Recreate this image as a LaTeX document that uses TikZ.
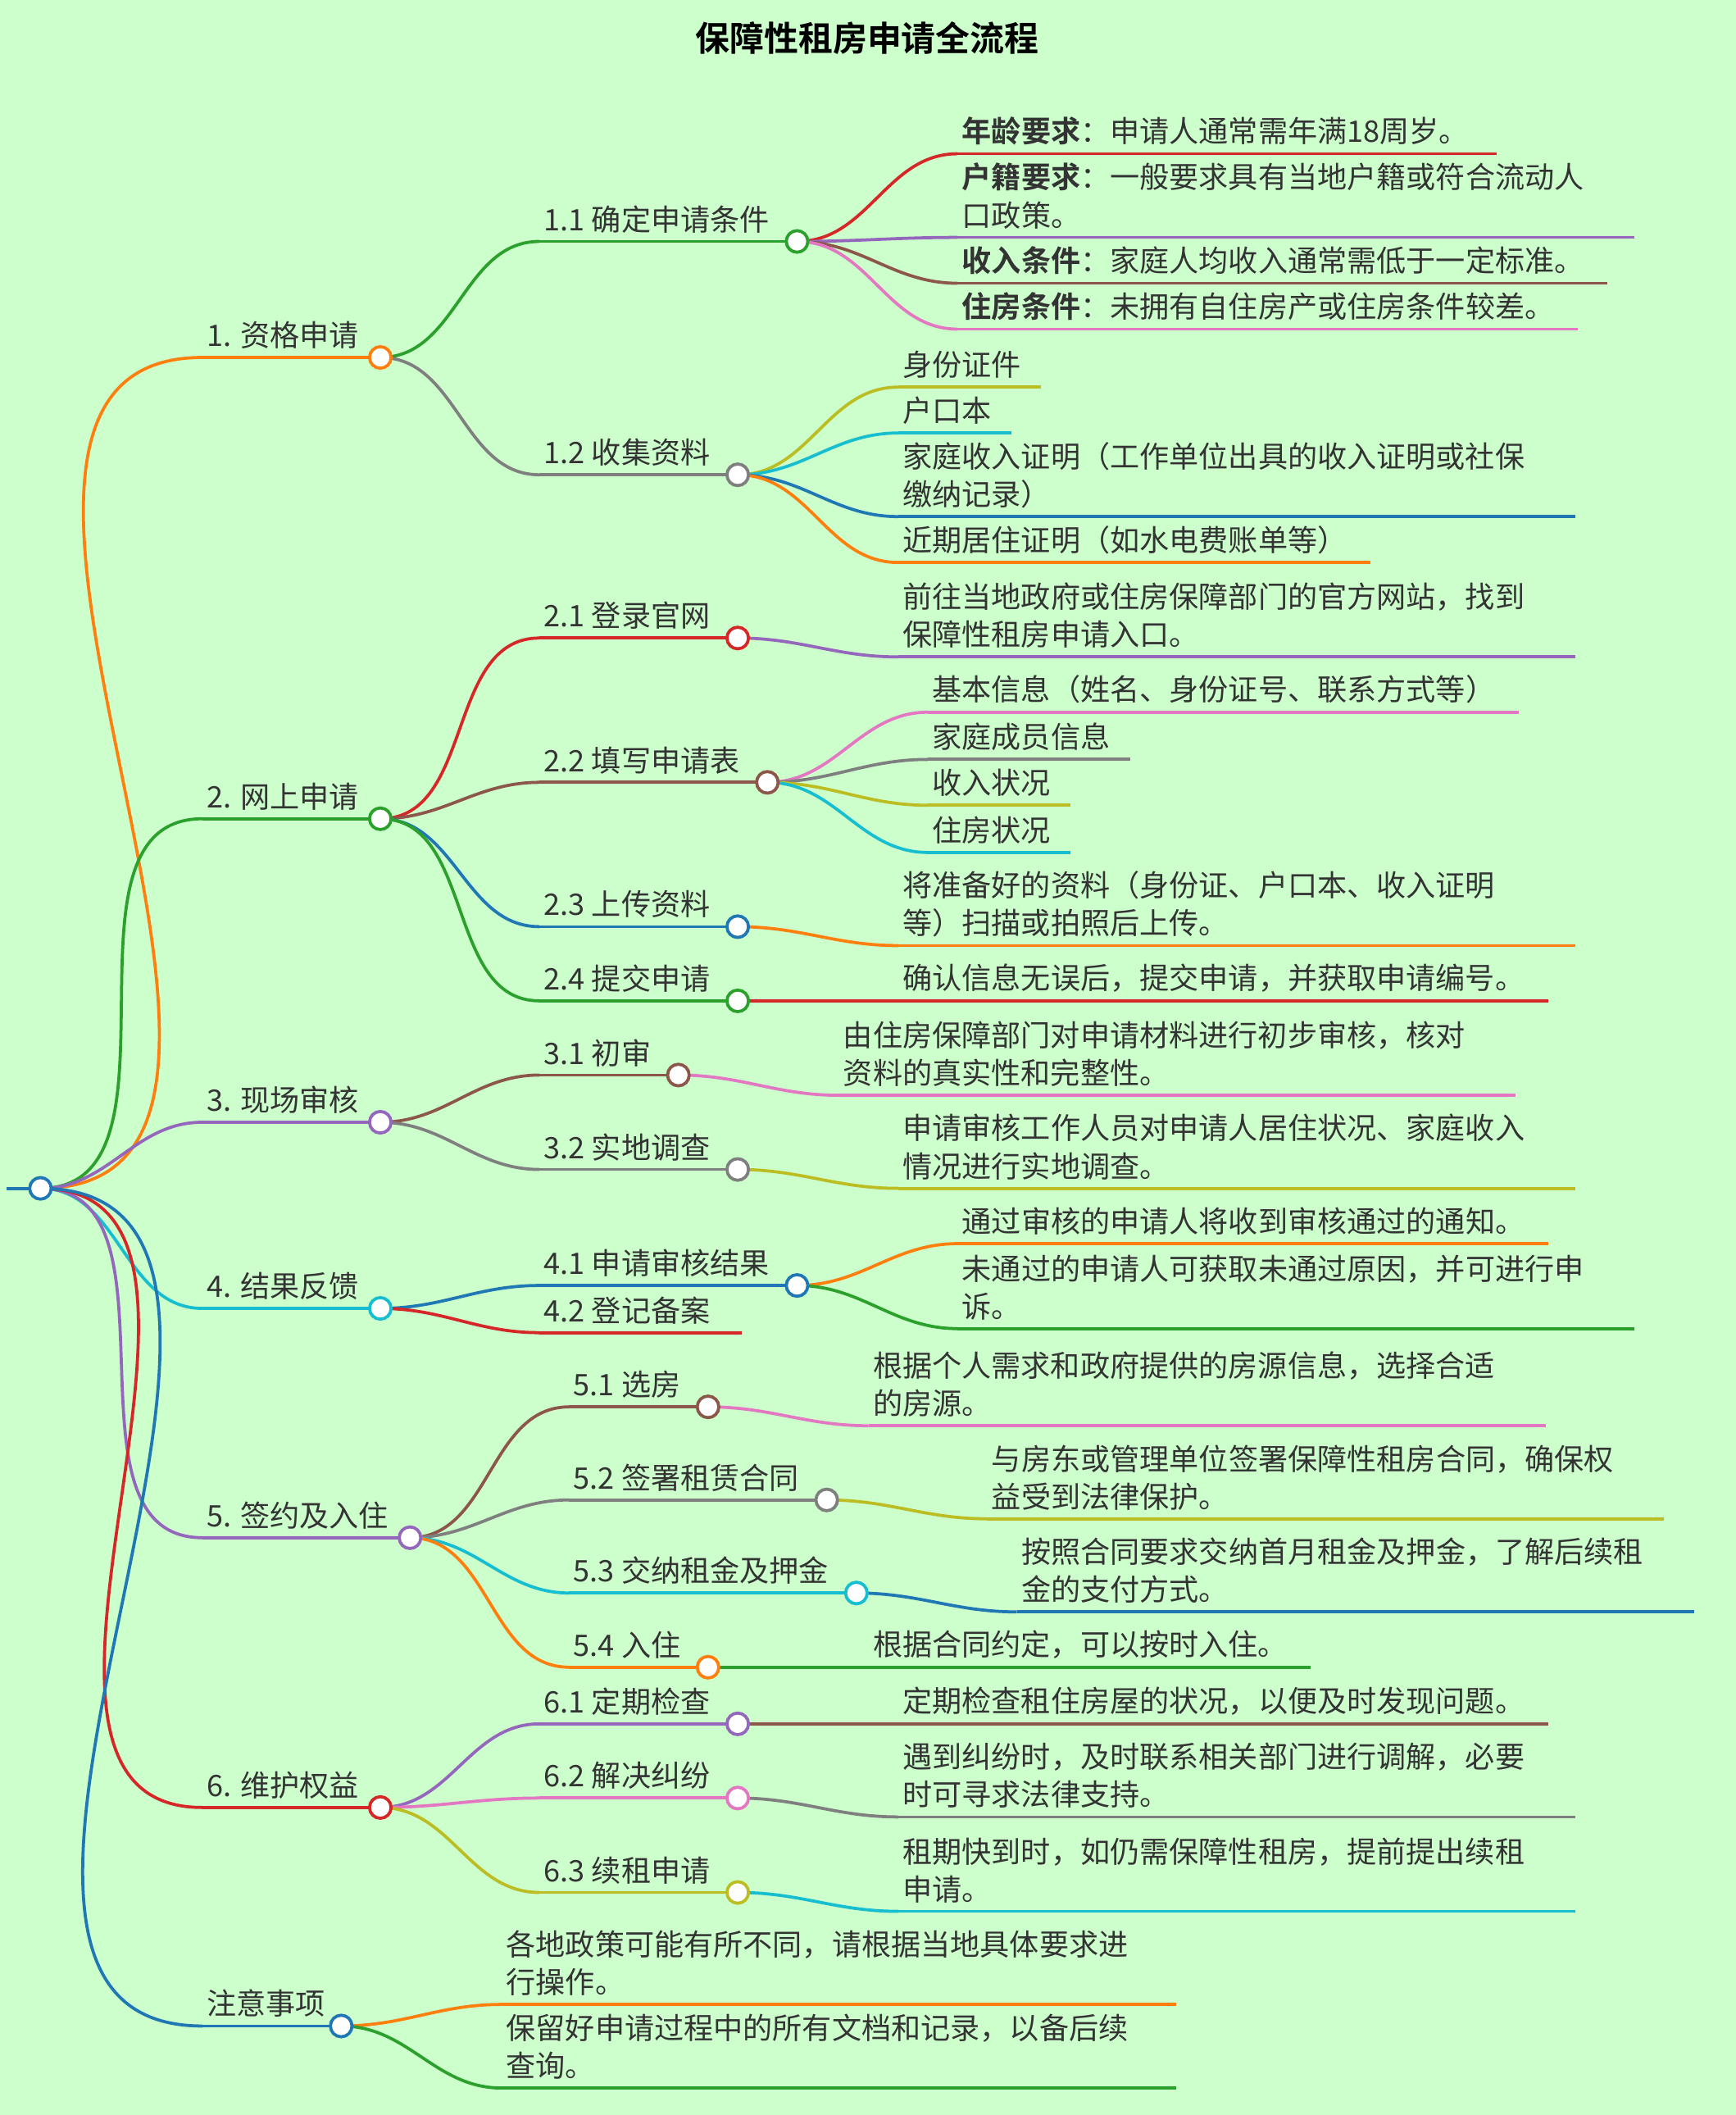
\documentclass[tikz,border=0pt]{standalone}
\usepackage{fontspec}
\setmainfont{Noto Sans CJK SC}[BoldFont={Noto Sans CJK SC Bold}]
\usetikzlibrary{positioning}
\definecolor{bg}{HTML}{CCFFCC}
\definecolor{ink}{HTML}{333333}
\definecolor{cOr}{HTML}{FF7F0E}
\definecolor{cGr}{HTML}{2CA02C}
\definecolor{cRe}{HTML}{D62728}
\definecolor{cPu}{HTML}{9467BD}
\definecolor{cBr}{HTML}{8C564B}
\definecolor{cPi}{HTML}{E377C2}
\definecolor{cGy}{HTML}{7F7F7F}
\definecolor{cOl}{HTML}{BCBD22}
\definecolor{cCy}{HTML}{17BECF}
\definecolor{cBl}{HTML}{1F77B4}
\tikzset{
  txt/.style={anchor=south west, inner sep=0pt, xshift=0.06cm, yshift=0.12cm, align=left, text=ink, font=\fontsize{12.5}{16}\selectfont},
  ul/.style={line width=1.3pt},
  edge/.style={line width=1.3pt},
  dot/.style={circle, draw, line width=1.3pt, fill=white, minimum size=0.32cm, inner sep=0pt}
}
% name, x, y, xend, colour, text
\newcommand{\mmitem}[6]{%
  \coordinate (#1) at (#2,#3);
  \coordinate (#1e) at (#4,#3);
  \draw[ul,#5] (#1) -- (#1e);
  \node[txt] (#1t) at (#1) {#6};}
\newcommand{\mmedge}[3]{\draw[edge,#3] (#1) to[out=0,in=180] (#2);}
\newcommand{\mmdot}[2]{\node[dot,draw=#2] at (#1e) {};}

\begin{document}
\begin{tikzpicture}[x=0.02cm,y=-0.02cm]
	\fill[bg] (0,0) rectangle (1287,1568);
	\useasboundingbox (0,0) rectangle (1287,1568);
	\node[font=\fontsize{14.5}{18}\selectfont\bfseries, text=black] (title) at (643,28) {保障性租房申请全流程};
	%
	\coordinate (rs) at (5,881);
	\coordinate (roote) at (30,881);
	\draw[ul,cBl] (rs) -- (roote);
	% level 1
	\mmitem{a}{150}{265}{282}{cOr}{1. 资格申请}
	\mmitem{b}{150}{607}{282}{cGr}{2. 网上申请}
	\mmitem{c}{150}{832}{282}{cPu}{3. 现场审核}
	\mmitem{d}{150}{970}{282}{cCy}{4. 结果反馈}
	\mmitem{e}{150}{1140}{304}{cPu}{5. 签约及入住}
	\mmitem{f}{150}{1340}{282}{cRe}{6. 维护权益}
	\mmitem{g}{150}{1502}{253}{cBl}{注意事项}
	\mmedge{roote}{a}{cOr}
	\mmedge{roote}{b}{cGr}
	\mmedge{roote}{c}{cPu}
	\mmedge{roote}{d}{cCy}
	\mmedge{roote}{e}{cPu}
	\mmedge{roote}{f}{cRe}
	\mmedge{roote}{g}{cBl}
	% level 2
	\mmitem{a1}{400}{179}{591}{cGr}{1.1 确定申请条件}
	\mmitem{a2}{400}{352}{547}{cGy}{1.2 收集资料}
	\mmitem{b1}{400}{473}{547}{cRe}{2.1 登录官网}
	\mmitem{b2}{400}{580}{569}{cBr}{2.2 填写申请表}
	\mmitem{b3}{400}{687}{547}{cBl}{2.3 上传资料}
	\mmitem{b4}{400}{742}{547}{cGr}{2.4 提交申请}
	\mmitem{c1}{400}{797}{503}{cBr}{3.1 初审}
	\mmitem{c2}{400}{867}{547}{cGy}{3.2 实地调查}
	\mmitem{d1}{400}{953}{591}{cBl}{4.1 申请审核结果}
	\mmitem{d2}{400}{988}{550}{cRe}{4.2 登记备案}
	\mmitem{e1}{422}{1043}{525}{cBr}{5.1 选房}
	\mmitem{e2}{422}{1112}{613}{cGy}{5.2 签署租赁合同}
	\mmitem{e3}{422}{1181}{635}{cCy}{5.3 交纳租金及押金}
	\mmitem{e4}{422}{1236}{525}{cOr}{5.4 入住}
	\mmitem{f1}{400}{1278}{547}{cPu}{6.1 定期检查}
	\mmitem{f2}{400}{1333}{547}{cPi}{6.2 解决纠纷}
	\mmitem{f3}{400}{1403}{547}{cOl}{6.3 续租申请}
	\foreach \p/\q/\c in {ae/a1/cGr, ae/a2/cGy, be/b1/cRe, be/b2/cBr, be/b3/cBl, be/b4/cGr,
	  ce/c1/cBr, ce/c2/cGy, de/d1/cBl, de/d2/cRe, ee/e1/cBr, ee/e2/cGy, ee/e3/cCy, ee/e4/cOr,
	  fe/f1/cPu, fe/f2/cPi, fe/f3/cOl}
	  {\mmedge{\p}{\q}{\c}}
	% leaves
	\mmitem{a11}{710}{114}{1110}{cRe}{\textbf{年龄要求}：申请人通常需年满18周岁。}
	\mmitem{a12}{710}{176}{1212}{cPu}{\textbf{户籍要求}：一般要求具有当地户籍或符合流动人\\口政策。}
	\mmitem{a13}{710}{210}{1192}{cBr}{\textbf{收入条件}：家庭人均收入通常需低于一定标准。}
	\mmitem{a14}{710}{244}{1170}{cPi}{\textbf{住房条件}：未拥有自住房产或住房条件较差。}
	\mmitem{a21}{666}{287}{772}{cOl}{身份证件}
	\mmitem{a22}{666}{321}{750}{cCy}{户口本}
	\mmitem{a23}{666}{383}{1168}{cBl}{家庭收入证明（工作单位出具的收入证明或社保\\缴纳记录）}
	\mmitem{a24}{666}{417}{1016}{cOr}{近期居住证明（如水电费账单等）}
	\mmitem{b11}{666}{487}{1168}{cPu}{前往当地政府或住房保障部门的官方网站，找到\\保障性租房申请入口。}
	\mmitem{b21}{688}{528}{1126}{cPi}{基本信息（姓名、身份证号、联系方式等）}
	\mmitem{b22}{688}{563}{838}{cGy}{家庭成员信息}
	\mmitem{b23}{688}{597}{794}{cOl}{收入状况}
	\mmitem{b24}{688}{632}{794}{cCy}{住房状况}
	\mmitem{b31}{666}{701}{1168}{cOr}{将准备好的资料（身份证、户口本、收入证明\\等）扫描或拍照后上传。}
	\mmitem{b41}{666}{742}{1148}{cRe}{确认信息无误后，提交申请，并获取申请编号。}
	\mmitem{c11}{622}{812}{1124}{cPi}{由住房保障部门对申请材料进行初步审核，核对\\资料的真实性和完整性。}
	\mmitem{c21}{666}{881}{1168}{cOl}{申请审核工作人员对申请人居住状况、家庭收入\\情况进行实地调查。}
	\mmitem{d11}{710}{922}{1148}{cOr}{通过审核的申请人将收到审核通过的通知。}
	\mmitem{d12}{710}{985}{1212}{cGr}{未通过的申请人可获取未通过原因，并可进行申\\诉。}
	\mmitem{e11}{644}{1057}{1146}{cPi}{根据个人需求和政府提供的房源信息，选择合适\\的房源。}
	\mmitem{e21}{732}{1126}{1234}{cOl}{与房东或管理单位签署保障性租房合同，确保权\\益受到法律保护。}
	\mmitem{e31}{754}{1195}{1256}{cBl}{按照合同要求交纳首月租金及押金，了解后续租\\金的支付方式。}
	\mmitem{e41}{644}{1236}{972}{cGr}{根据合同约定，可以按时入住。}
	\mmitem{f11}{666}{1278}{1148}{cBr}{定期检查租住房屋的状况，以便及时发现问题。}
	\mmitem{f21}{666}{1347}{1168}{cGy}{遇到纠纷时，及时联系相关部门进行调解，必要\\时可寻求法律支持。}
	\mmitem{f31}{666}{1417}{1168}{cCy}{租期快到时，如仍需保障性租房，提前提出续租\\申请。}
	\mmitem{g1}{372}{1486}{872}{cOr}{各地政策可能有所不同，请根据当地具体要求进\\行操作。}
	\mmitem{g2}{372}{1548}{872}{cGr}{保留好申请过程中的所有文档和记录，以备后续\\查询。}
	\foreach \p/\q/\c in {a1e/a11/cRe, a1e/a12/cPu, a1e/a13/cBr, a1e/a14/cPi,
	  a2e/a21/cOl, a2e/a22/cCy, a2e/a23/cBl, a2e/a24/cOr, b1e/b11/cPu,
	  b2e/b21/cPi, b2e/b22/cGy, b2e/b23/cOl, b2e/b24/cCy, b3e/b31/cOr, b4e/b41/cRe,
	  c1e/c11/cPi, c2e/c21/cOl, d1e/d11/cOr, d1e/d12/cGr, e1e/e11/cPi, e2e/e21/cOl,
	  e3e/e31/cBl, e4e/e41/cGr, f1e/f11/cBr, f2e/f21/cGy, f3e/f31/cCy, ge/g1/cOr, ge/g2/cGr}
	  {\mmedge{\p}{\q}{\c}}
	% dots on top
	\foreach \n/\c in {root/cBl, a/cOr, b/cGr, c/cPu, d/cCy, e/cPu, f/cRe, g/cBl,
	  a1/cGr, a2/cGy, b1/cRe, b2/cBr, b3/cBl, b4/cGr, c1/cBr, c2/cGy, d1/cBl,
	  e1/cBr, e2/cGy, e3/cCy, e4/cOr, f1/cPu, f2/cPi, f3/cOl}
	  {\mmdot{\n}{\c}}
\end{tikzpicture}
\end{document}
